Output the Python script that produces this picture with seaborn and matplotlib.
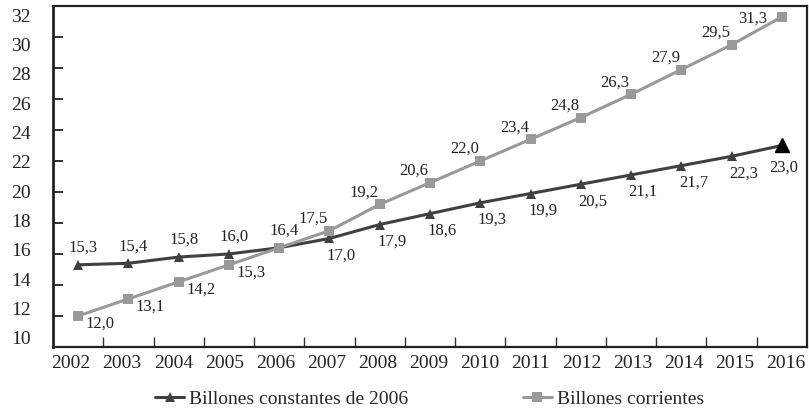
import numpy as np
import pandas as pd
import seaborn as sns
import matplotlib.pyplot as plt
import matplotlib.transforms as mtransforms

sns.set_theme(style="white")
plt.rcParams['font.family'] = ['Liberation Serif', 'DejaVu Serif']

years = [str(y) for y in range(2002, 2017)]
constantes = [15.3, 15.4, 15.8, 16.0, 16.4, 17.0, 17.9, 18.6, 19.3, 19.9,
              20.5, 21.1, 21.7, 22.3, 23.0]
corrientes = [12.0, 13.1, 14.2, 15.3, 16.4, 17.5, 19.2, 20.6, 22.0, 23.4,
              24.8, 26.3, 27.9, 29.5, 31.3]
name_const = "Billones constantes de 2006"
name_corr = "Billones corrientes"

df = pd.DataFrame({
    "idx": list(range(len(years))) * 2,
    "valor": constantes + corrientes,
    "serie": [name_const] * len(years) + [name_corr] * len(years),
})

dark = "#404040"
light = "#999999"
txt = "#222222"

fig = plt.figure(figsize=(8.09, 4.15), dpi=100)
ax = fig.add_axes([0.0655, 0.164, 0.932, 0.8215])

sns.lineplot(data=df, x="idx", y="valor", hue="serie", style="serie",
             palette={name_const: dark, name_corr: light},
             markers={name_const: "^", name_corr: "s"},
             dashes=False, linewidth=2.2, markersize=6.5,
             markeredgewidth=0, ax=ax, legend=True)

# last point of the constant series is drawn bigger and black
ax.plot(len(years) - 1, constantes[-1], marker="^", color="black",
        markersize=10, linestyle="none", zorder=5)

# data labels (offsets in pixels)
last = len(years) - 1
for i, v in enumerate(constantes):
    if i <= 4:
        off = (5, 17)
    elif i == last:
        off = (2, -22)
    else:
        off = (12, -17)
    ax.annotate(f"{v:.1f}".replace(".", ","), (i, v), textcoords="offset pixels",
                xytext=off, ha="center", va="center", fontsize=12, color=txt)
for i, v in enumerate(corrientes):
    if i == 4:
        continue
    if i < 4:
        off = (22, -8)
    elif i == last:
        off = (-29, -2)
    else:
        off = (-16, 12)
    ax.annotate(f"{v:.1f}".replace(".", ","), (i, v), textcoords="offset pixels",
                xytext=off, ha="center", va="center", fontsize=12, color=txt)

ax.set_xlim(-0.5, len(years) - 0.5)
ax.set_ylim(10, 32)
ax.set_yticks(range(10, 33, 2))
ax.set_xticks(range(len(years)))
ax.set_xticklabels(years)
ax.set_xticks(np.arange(0.5, len(years) - 1, 1), minor=True)
ax.tick_params(axis="x", which="major", length=0, labelsize=14, pad=6, colors=txt)
ax.tick_params(axis="x", which="minor", direction="in", length=7, width=1, color="#333333",
               bottom=True)
ax.tick_params(axis="y", which="major", direction="in", length=7, width=1.3, color=txt,
               left=True, labelsize=14, pad=16, labelcolor=txt)

# in the reference the tick labels are spaced slightly differently from the ticks
for k, lab in enumerate(ax.get_xticklabels()):
    dx = -7 + 11 * k / (len(years) - 1)
    lab.set_transform(lab.get_transform() +
                      mtransforms.ScaledTranslation(dx / 100, 0, fig.dpi_scale_trans))
for v, lab in zip(range(10, 33, 2), ax.get_yticklabels()):
    dy = -(v - 21) * 9 / 11
    lab.set_transform(lab.get_transform() +
                      mtransforms.ScaledTranslation(0, dy / 100, fig.dpi_scale_trans))
ax.set_xlabel("")
ax.set_ylabel("")
ax.grid(False)

for side, sp in ax.spines.items():
    sp.set_visible(True)
    sp.set_color(txt)
    sp.set_linewidth(1.6)
ax.spines["left"].set_linewidth(2)

handles, labels = ax.get_legend_handles_labels()
ax.legend(handles, labels, loc="center", bbox_to_anchor=(0.5, -0.152),
          ncol=2, frameon=False, fontsize=14,
          handlelength=1.45, handletextpad=0.3, columnspacing=5.9)

fig.savefig("out.png", dpi=100)
